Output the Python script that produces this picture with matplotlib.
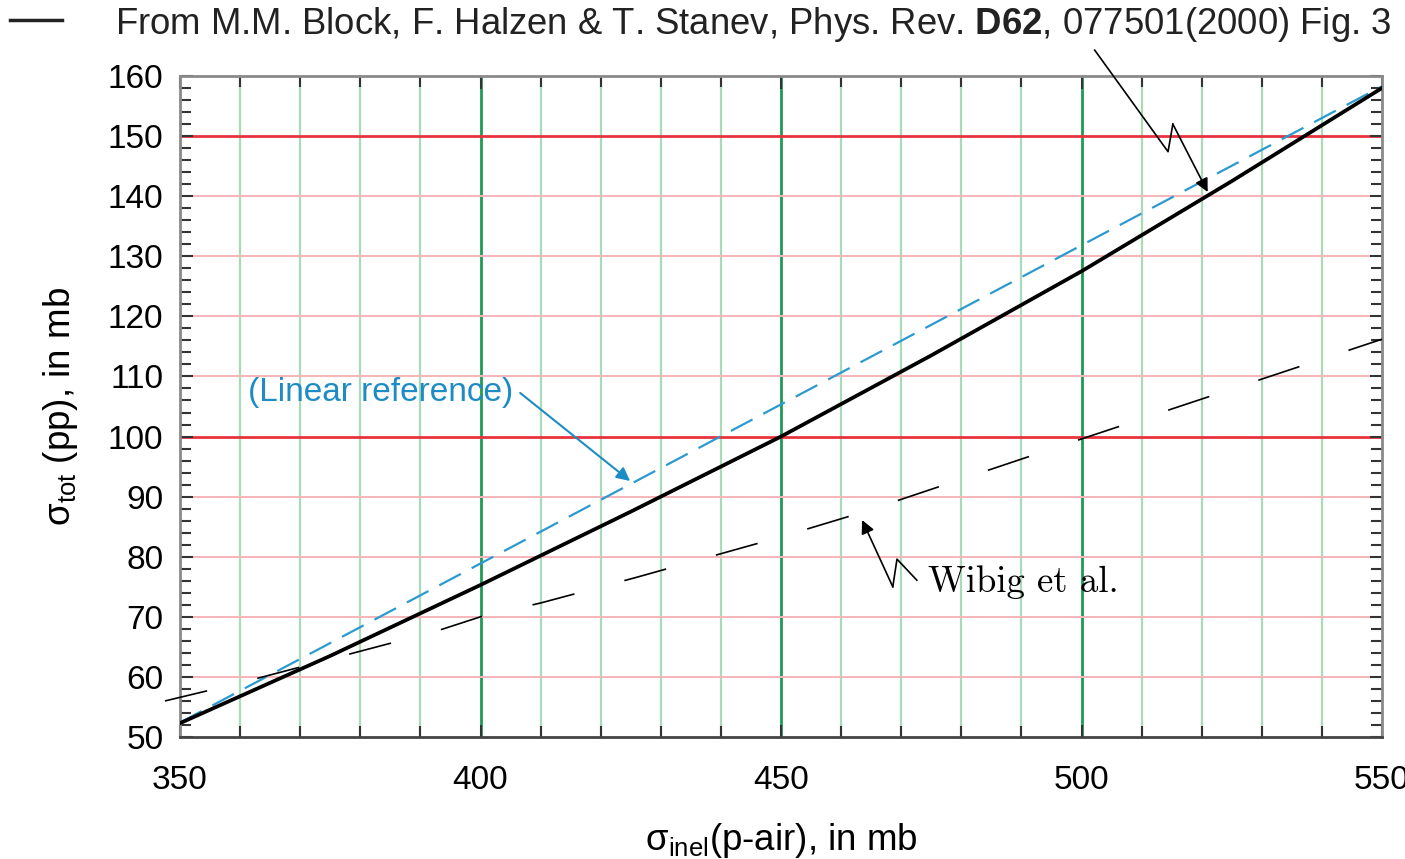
import matplotlib

matplotlib.use("Agg")
import matplotlib.pyplot as plt
import numpy as np

# Datos
x_block = [350, 375, 400, 425, 450, 475, 500, 525, 550]
y_block = [52.3, 63.5, 75.3, 87.5, 100.0, 113.5, 127.5, 142.5, 158.0]

x_lineal = [350, 550]
y_lineal = [52.4, 158.3]

x_wibig = [347.5, 360, 392.6, 400, 410, 425.7, 450, 463.6, 500.6, 550]
y_wibig = [56.0, 59.0, 67.6, 70.0, 72.3, 76.5, 83.3, 87.4, 99.8, 116.2]

x_ticks = [350, 400, 450, 500, 550]
y_ticks = [50, 60, 70, 80, 90, 100, 110, 120, 130, 140, 150, 160]

plt.rcParams["font.family"] = ["Liberation Sans", "DejaVu Sans"]
plt.rcParams["mathtext.fontset"] = "custom"
plt.rcParams["mathtext.rm"] = "Liberation Sans"
plt.rcParams["mathtext.it"] = "Liberation Sans:italic"
plt.rcParams["mathtext.bf"] = "Liberation Sans:bold"

fig = plt.figure(figsize=(14.05, 8.59), dpi=100)
ax = fig.add_axes([180 / 1405, 1 - 737 / 859, 1202 / 1405, 661 / 859])

# Rejilla
for xv in range(350, 551, 10):
    if xv in (400, 450, 500):
        ax.axvline(xv, color="#1f9a55", linewidth=2.0, zorder=1)
    elif xv not in (350, 550):
        ax.axvline(xv, color="#a9dab9", linewidth=1.6, zorder=1)
for yv in range(50, 161, 10):
    if yv in (100, 150):
        ax.axhline(yv, color="#e8333c", linewidth=2.0, zorder=1)
    elif yv not in (50, 160):
        ax.axhline(yv, color="#f5b5b8", linewidth=1.4, zorder=1)

# Curvas
ax.plot(x_lineal, y_lineal, color="#2b9ad0", linewidth=1.6, dashes=(11, 5.5), zorder=3)
ax.plot(x_block, y_block, color="black", linewidth=2.7, zorder=4)
(linea_wibig,) = ax.plot(x_wibig, y_wibig, color="black", linewidth=1.2, zorder=3,
                         clip_on=False)
linea_wibig.set_dashes((26, 31))

ax.set_xlim(350, 550)
ax.set_ylim(50, 160)
ax.set_xticks(x_ticks)
ax.set_yticks(y_ticks)
ax.set_xticks(np.arange(350, 551, 10), minor=True)
ax.set_yticks(np.arange(50, 161, 2), minor=True)
ax.tick_params(which="both", direction="in", top=True, right=True, labelsize=24,
               color="#333333")
ax.tick_params(axis="x", pad=20)
ax.tick_params(axis="y", pad=12)
ax.tick_params(which="major", length=9, width=1.5)
ax.tick_params(which="minor", length=8, width=1.5)
for lado in ["top", "right", "left"]:
    ax.spines[lado].set_color("#8a8a8a")
    ax.spines[lado].set_linewidth(2)
ax.spines["bottom"].set_color("#444444")
ax.spines["bottom"].set_linewidth(2)

ax.set_xlabel("σ$_{\\mathrm{inel}}$(p-air), in mb", fontsize=26.5, labelpad=18)
ax.set_ylabel("σ$_{\\mathrm{tot}}$ (pp), in mb", fontsize=26.5, labelpad=20)

# Anotaciones
ax.text(361.3, 107.3, "(Linear reference)", color="#1e8cc4", fontsize=24,
        ha="left", va="center")
ax.annotate("", xy=(424.9, 92.6), xytext=(406.6, 107.25),
            arrowprops=dict(arrowstyle="-|>", color="#1e8cc4", lw=1.5,
                            mutation_scale=20, shrinkA=0, shrinkB=0))

ax.plot([502.2, 514.4, 515.2], [164.3, 147.4, 152.0], color="black",
        linewidth=1.2, clip_on=False, zorder=5)
ax.annotate("", xy=(521.0, 140.7), xytext=(515.2, 152.0),
            arrowprops=dict(arrowstyle="-|>", color="black", lw=1.2,
                            mutation_scale=20, shrinkA=0, shrinkB=0))

ax.plot([472.6, 469.3, 468.6], [76.1, 79.6, 75.0], color="black",
        linewidth=1.2, zorder=5)
ax.annotate("", xy=(463.5, 86.1), xytext=(468.6, 75.0),
            arrowprops=dict(arrowstyle="-|>", color="black", lw=1.2,
                            mutation_scale=20, shrinkA=0, shrinkB=0))
ax.text(474.5, 75.8, "Wibig et al.", family="cmr10", fontsize=26.5,
        ha="left", va="center")

# Leyenda superior
fig.add_artist(plt.Line2D([10 / 1405, 62 / 1405], [1 - 20 / 859, 1 - 20 / 859],
                          color="#222222", linewidth=2.5))
fig.text(115 / 1405, 1 - 24 / 859,
         "From M.M. Block, F. Halzen & T. Stanev, Phys. Rev. $\\mathbf{D62}$, "
         "077501(2000) Fig. 3",
         fontsize=26.3, ha="left", va="center", color="#222222")

fig.savefig("out.png", dpi=100)
